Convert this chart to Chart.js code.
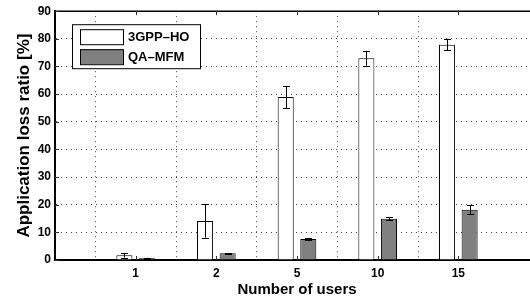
<!DOCTYPE html>
<html>
<head>
<meta charset="utf-8">
<script src="https://cdn.jsdelivr.net/npm/chart.js@4/dist/chart.umd.min.js"></script>
<style>
  html, body { margin: 0; padding: 0; background: #fff; overflow: hidden; }
  #wrap { width: 550px; height: 300px; }
</style>
</head>
<body>
<div id="wrap"><canvas id="chart" width="550" height="300"></canvas></div>
<script>
// categories (empty ends keep the axis running past the first and last group)
const userCounts = ['', '1', '2', '5', '10', '15', ''];
const seriesNames = ['3GPP\u2013HO', 'QA\u2013MFM'];
const hoValues  = [null, 1.7, 14.1, 59.0, 73.0, 77.9, null];
const hoErrors  = [null, 0.8, 6.0, 4.0, 2.7, 2.1, null];
const mfmValues = [null, 0.6, 2.4, 7.6, 14.9, 18.2, null];
const mfmErrors = [null, 0.2, 0.1, 0.3, 0.6, 1.7, null];
const yTicks = [0, 10, 20, 30, 40, 50, 60, 70, 80, 90];

const font = 'Liberation Sans, Arial, sans-serif';

let errorBars = {
    id : 'errorBars',
    afterDatasetsDraw : ( chart ) => {
        let ctx = chart.ctx;
        let y = chart.scales.y;
        let errs = [ hoErrors, mfmErrors ];
        ctx.save();
        ctx.strokeStyle = '#000';
        ctx.lineWidth = 1;
        chart.data.datasets.forEach( ( ds, i ) => {
            chart.getDatasetMeta( i ).data.forEach( ( bar, j ) => {
                if ( ds.data[j] == null ) return;
                let e = errs[i][j];
                let top = y.getPixelForValue( ds.data[j] + e );
                let bot = y.getPixelForValue( ds.data[j] - e );
                let cx = Math.round( bar.x ) + 0.5;
                ctx.beginPath();
                ctx.moveTo( cx, top ); ctx.lineTo( cx, bot );
                ctx.moveTo( cx - 3.5, Math.round( top ) + 0.5 ); ctx.lineTo( cx + 3.5, Math.round( top ) + 0.5 );
                ctx.moveTo( cx - 3.5, Math.round( bot ) + 0.5 ); ctx.lineTo( cx + 3.5, Math.round( bot ) + 0.5 );
                ctx.stroke();
            } );
        } );
        ctx.restore();
    }
};

let frame = {
    id : 'frame',
    afterDraw : ( chart ) => {
        let ctx = chart.ctx;
        let a = chart.chartArea;
        let x = chart.scales.x;
        let y = chart.scales.y;
        ctx.save();
        ctx.strokeStyle = '#000';
        // top edge of the box
        ctx.lineWidth = 1.5;
        ctx.beginPath();
        ctx.moveTo( a.left, a.top ); ctx.lineTo( a.right, a.top );
        ctx.stroke();
        // inward tick marks
        ctx.lineWidth = 1;
        ctx.strokeStyle = '#333';
        ctx.beginPath();
        for ( let i = 1; i < userCounts.length - 1; i++ ) {
            let px = Math.round( x.getPixelForValue( i ) ) + 0.5;
            ctx.moveTo( px, a.top ); ctx.lineTo( px, a.top + 4 );
            ctx.moveTo( px, a.bottom ); ctx.lineTo( px, a.bottom - 4 );
        }
        yTicks.forEach( ( v ) => {
            let py = Math.round( y.getPixelForValue( v ) ) + 0.5;
            ctx.moveTo( a.left, py ); ctx.lineTo( a.left + 4, py );
        } );
        ctx.stroke();

        // legend box
        let lx = a.left + 17, ly = a.top + 13, lw = 128, lh = 44;
        ctx.fillStyle = '#fff';
        ctx.fillRect( lx, ly, lw, lh );
        ctx.strokeStyle = '#000';
        ctx.lineWidth = 1;
        ctx.strokeRect( lx + 0.5, ly + 0.5, lw, lh );
        chart.data.datasets.forEach( ( ds, i ) => {
            let sy = ly + 5 + i * 20;
            ctx.fillStyle = ds.backgroundColor;
            ctx.fillRect( lx + 8, sy, 43, 15 );
            ctx.strokeStyle = '#000';
            ctx.strokeRect( lx + 8.5, sy + 0.5, 43, 15 );
            ctx.fillStyle = '#000';
            ctx.font = 'bold 13px ' + font;
            ctx.textBaseline = 'middle';
            ctx.textAlign = 'left';
            ctx.fillText( ds.label, lx + 56, sy + 8.5 );
        } );
        ctx.restore();
    }
};

let ctx = document.getElementById( 'chart' ).getContext( '2d' );
let chart = new Chart( ctx, {
    type : 'bar',
    data : {
        labels : userCounts,
        datasets : [
            {
                label : seriesNames[0],
                data : hoValues,
                backgroundColor : '#ffffff',
                borderColor : '#000000',
                borderWidth : 1
            },
            {
                label : seriesNames[1],
                data : mfmValues,
                backgroundColor : '#808080',
                borderColor : '#000000',
                borderWidth : 1
            }
        ]
    },
    options : {
        responsive : false,
        animation : false,
        layout : { padding : { top : 11, right : 11, left : 0, bottom : 0 } },
        categoryPercentage : 0.56,
        barPercentage : 0.71,
        plugins : {
            legend : { display : false },
            tooltip : { enabled : false }
        },
        scales : {
            x : {
                offset : false,
                afterFit : ( s ) => { s.height = 40; },
                grid : {
                    color : ( c ) => ( c.index === 0 || c.index === userCounts.length - 1 ) ? 'rgba(0,0,0,0)' : '#444',
                    lineWidth : 1,
                    drawTicks : false
                },
                border : { display : true, color : '#000', width : 2, dash : [1, 4] },
                ticks : {
                    color : '#000',
                    padding : 6,
                    maxRotation : 0,
                    autoSkip : false,
                    font : { family : font, weight : 'bold', size : 12 }
                },
                title : {
                    display : true,
                    text : 'Number of users',
                    color : '#000',
                    padding : { top : 0, bottom : 1 },
                    font : { family : font, weight : 'bold', size : 15 }
                }
            },
            y : {
                min : 0,
                max : 90,
                afterFit : ( s ) => { s.width = 55; },
                afterBuildTicks : ( s ) => { s.ticks = yTicks.map( ( v ) => ( { value : v } ) ); },
                grid : {
                    color : ( c ) => c.index === 0 ? 'rgba(0,0,0,0)' : '#444',
                    lineWidth : 1,
                    drawTicks : false
                },
                border : { display : true, color : '#000', width : 2, dash : [1, 4] },
                ticks : {
                    color : '#000',
                    padding : 4,
                    font : { family : font, weight : 'bold', size : 12 }
                },
                title : {
                    display : true,
                    text : 'Application loss ratio [%]',
                    color : '#000',
                    padding : { top : 14, bottom : 0 },
                    font : { family : font, weight : 'bold', size : 17 }
                }
            }
        }
    },
    plugins : [ errorBars, frame ]
} );
</script>
</body>
</html>
